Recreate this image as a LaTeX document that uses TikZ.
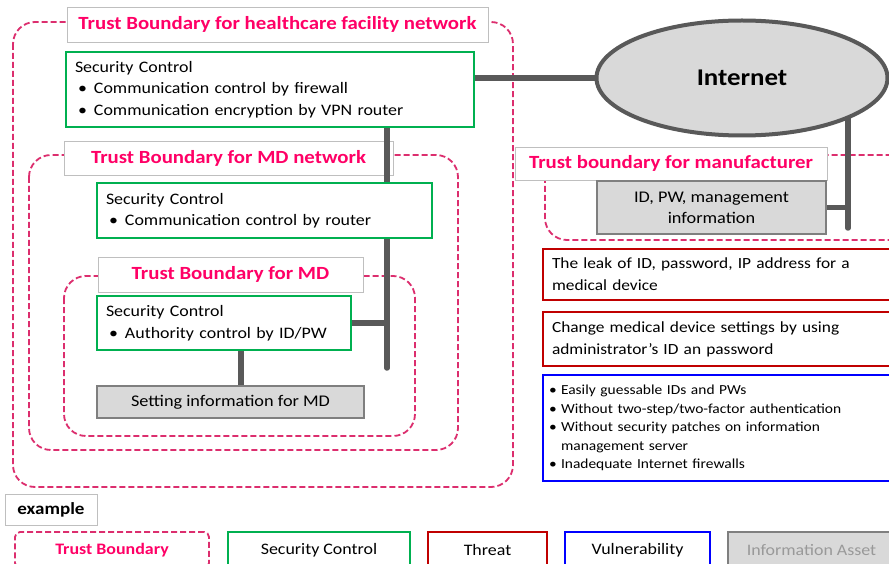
\documentclass[tikz,border=0pt]{standalone}
\usepackage{fontspec}
\setmainfont{Carlito}[FakeStretch=1.12]
\usetikzlibrary{shapes.geometric}
\pgfdeclarelayer{bg}\pgfdeclarelayer{wires}\pgfsetlayers{bg,wires,main}
\definecolor{tbline}{HTML}{DC2E6E}
\definecolor{tbtext}{HTML}{FF0066}
\definecolor{scgreen}{HTML}{00B050}
\definecolor{thred}{HTML}{C00000}
\definecolor{vublue}{HTML}{0000FF}
\definecolor{wiregray}{HTML}{595959}
\definecolor{assetfill}{HTML}{D9D9D9}
\definecolor{assetline}{HTML}{7F7F7F}
\newcommand{\bul}{\hspace*{3pt}\makebox[16pt][l]{\textbullet}}
\newcommand{\vbul}{\makebox[12pt][l]{\textbullet}}
\begin{document}
\begin{tikzpicture}[x=1pt,y=-1pt,
  tb/.style={draw=tbline,line width=1.8pt,dash pattern=on 6pt off 3pt,rounded corners=22pt},
  tblabel/.style={draw=black!25,fill=white,line width=0.8pt,text=tbtext,inner sep=0pt,
    font=\bfseries\fontsize{18.6}{20}\selectfont},
  textbox/.style={fill=white,align=left,inner xsep=9pt,inner ysep=0pt},
  sc/.style={textbox,draw=scgreen,line width=2.5pt,font=\fontsize{16}{21.5}\selectfont},
  threat/.style={textbox,draw=thred,line width=2.5pt,font=\fontsize{15.5}{22}\selectfont},
  vuln/.style={textbox,draw=vublue,line width=2.5pt,font=\fontsize{13.8}{18.5}\selectfont,inner xsep=6pt},
  asset/.style={draw=assetline,fill=assetfill,line width=2.5pt,align=center,inner sep=0pt,
    font=\fontsize{16.3}{21}\selectfont},
  wire/.style={draw=wiregray,line width=5.5pt},
  legend/.style={fill=white,line width=2.5pt,inner sep=0pt,minimum height=36,
    font=\fontsize{16}{18}\selectfont}]
\useasboundingbox (0,0) rectangle (889,564);

% ---------- main nodes ----------
\node[sc,minimum width=408,minimum height=75,text width=390] (sc1) at (270,89.5)
  {Security Control\\\bul Communication control by firewall\\\bul Communication encryption by VPN router};
\node[sc,minimum width=335,minimum height=55,text width=317] (sc2) at (264.5,210.5)
  {Security Control\\\bul Communication control by router};
\node[sc,minimum width=254,minimum height=54,text width=236] (sc3) at (224,323)
  {Security Control\\\bul Authority control by ID/PW};
\node[asset,minimum width=267,minimum height=32] (set) at (230.5,402) {Setting information for MD};
\node[ellipse,draw=wiregray,fill=assetfill,line width=4pt,minimum width=291,minimum height=115,
  font=\bfseries\fontsize{24}{28}\selectfont] (inet) at (742,78) {Internet};
\node[asset,minimum width=229,minimum height=53] (idb) at (711.5,207.5) {ID, PW, management\\information};
\node[threat,minimum width=360,minimum height=51,text width=342] (th1) at (723,274.5)
  {The leak of ID, password, IP address for a\\medical device};
\node[threat,minimum width=360,minimum height=54,text width=342] (th2) at (723,339)
  {Change medical device settings by using\\administrator's ID an password};
\node[vuln,minimum width=360,minimum height=106,text width=348] (vu) at (723,428)
  {\vbul Easily guessable IDs and PWs\\\vbul Without two-step/two-factor authentication\\\vbul Without security patches on information\\\hspace*{12pt}management server\\\vbul Inadequate Internet firewalls};

% ---------- legend ----------
\node[draw=black!25,line width=0.8pt,fill=white,inner sep=0pt,minimum width=92,minimum height=31,
  font=\bfseries\fontsize{17}{18}\selectfont] (ex) at (51,509.5) {example};
\node[legend,draw=tbline,line width=1.8pt,dash pattern=on 6pt off 3pt,rounded corners=5pt,
  minimum width=194,text=tbtext,font=\bfseries\fontsize{16}{18}\selectfont] (lgtb) at (112,550) {Trust Boundary};
\node[legend,draw=scgreen,minimum width=182] (lgsc) at (319,550) {Security Control};
\node[legend,draw=thred,minimum width=119] (lgth) at (487.5,550) {Threat};
\node[legend,draw=vublue,minimum width=145] (lgvu) at (637.5,550) {Vulnerability};
\node[legend,draw=assetline,fill=assetfill,text=black!40,minimum width=167] (lgas) at (811.5,550) {Information Asset};

% ---------- trust boundaries ----------
\begin{pgfonlayer}{bg}
\fill[white] (0,0) rectangle (889,564);
\draw[tb] (13,22) rectangle (513,487);
\draw[tb] (29,155) rectangle (458,450);
\draw[tb] (64,276) rectangle (415,436);
\draw[tb] (545,155) rectangle (915,240);
\node[tblabel,minimum width=421,minimum height=35] (tb1) at (277.5,24.5) {Trust Boundary for healthcare facility network};
\node[tblabel,minimum width=329,minimum height=34] (tb2) at (228.5,158) {Trust Boundary for MD network};
\node[tblabel,minimum width=265,minimum height=35] (tb3) at (230.5,274.5) {Trust Boundary for MD};
\node[tblabel,minimum width=312,minimum height=33] (tb4) at (671,163.5) {Trust boundary for manufacturer};
\end{pgfonlayer}

% ---------- connectors ----------
\begin{pgfonlayer}{wires}
\coordinate (busB) at (387,368);
\coordinate (mdw) at (241,0);
\coordinate (mB) at (848,228);
\draw[wire,line cap=round] (sc1.south -| busB) -- (busB);
\draw[wire] (sc3.east) -- (sc3.east -| busB);
\draw[wire] (sc3.south -| mdw) -- (set.north -| mdw);
\draw[wire] (sc1.east |- inet.center) -- (inet.west);
\draw[wire,line cap=round] (inet.center -| mB) -- (mB);
\draw[wire] (idb.east) -- (idb.east -| mB);
\end{pgfonlayer}
\end{tikzpicture}
\end{document}
